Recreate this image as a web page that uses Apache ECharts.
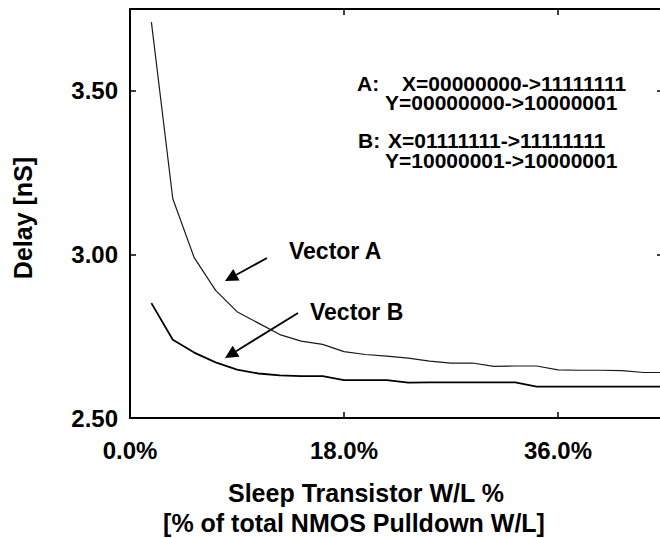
<!DOCTYPE html>
<html>
<head>
<meta charset="utf-8">
<script src="https://cdn.jsdelivr.net/npm/echarts@6/dist/echarts.min.js"></script>
<style>
  html, body { margin: 0; padding: 0; background: #fff; overflow: hidden; }
  #chart { width: 664px; height: 538px; }
</style>
</head>
<body>
<div id="chart"></div>
<script>
// Sleep transistor size, % of total NMOS pulldown W/L
const widthPct = [1.8, 3.6, 5.4, 7.2, 9.0, 10.8, 12.6, 14.4, 16.2, 18.0, 19.8, 21.6, 23.4,
                  25.2, 27.0, 28.8, 30.6, 32.4, 34.2, 36.0, 37.8, 39.6, 41.4, 43.2, 45.0];
// Delay in nS for each input vector
const delayA = [3.71, 3.17, 2.99, 2.89, 2.825, 2.79, 2.755, 2.735, 2.725, 2.703, 2.694, 2.689, 2.683,
                2.674, 2.668, 2.668, 2.658, 2.659, 2.659, 2.647, 2.646, 2.646, 2.645, 2.639, 2.639];
const delayB = [2.851, 2.739, 2.70, 2.67, 2.648, 2.636, 2.630, 2.628, 2.628, 2.616, 2.616, 2.616, 2.608,
                2.609, 2.609, 2.609, 2.609, 2.609, 2.596, 2.596, 2.596, 2.596, 2.596, 2.596, 2.596];

// Axis ranges and tick steps
const xRange = [0, 44.83];
const xStep = 18;
const yRange = [2.5, 3.75];
const yStep = 0.5;

// Input vector definitions
const vectorA = { tag: 'A:', x: 'X=00000000->11111111', y: 'Y=00000000->10000001' };
const vectorB = { tag: 'B:', x: 'X=01111111->11111111', y: 'Y=10000001->10000001' };
const seriesNames = ['Vector A', 'Vector B'];

const FONT = '"Liberation Sans", Arial, Helvetica, sans-serif';
const INK = '#000';

const chart = echarts.init(document.getElementById('chart'), null, { renderer: 'svg' });

const onStep = (v, step) => Math.abs(v / step - Math.round(v / step)) < 1e-6;

function boxAxis(base) {
  return Object.assign({
    axisLine: { show: true, onZero: false, lineStyle: { color: INK, width: 2 } },
    axisTick: { show: true, inside: true, length: 6, lineStyle: { color: INK, width: 1.5 } },
    splitLine: { show: false }
  }, base);
}

// Arrow: line from tail to tip with a filled triangular head
function arrow(tail, tip, headLen, headW) {
  const dx = tip[0] - tail[0], dy = tip[1] - tail[1];
  const L = Math.hypot(dx, dy);
  const ux = dx / L, uy = dy / L;
  const bx = tip[0] - ux * headLen, by = tip[1] - uy * headLen;
  const px = -uy * headW / 2, py = ux * headW / 2;
  return [
    { type: 'line', shape: { x1: tail[0], y1: tail[1], x2: bx, y2: by },
      style: { stroke: INK, lineWidth: 1.8 } },
    { type: 'polygon', shape: { points: [[tip[0], tip[1]], [bx + px, by + py], [bx - px, by - py]] },
      style: { fill: INK } }
  ];
}

function label(text, x, y, size, align) {
  return { type: 'text', x: x, y: y,
    style: { text: text, fill: INK, font: 'bold ' + size + 'px ' + FONT,
             align: align || 'left', verticalAlign: 'middle' } };
}

// Two-line vector description: tag column, then X and Y patterns
function vectorBlock(v, x, yTop, tagW, indentW) {
  const base = { fontSize: 21, fontWeight: 'bold', fontFamily: FONT, color: INK, lineHeight: 19.5 };
  return { type: 'text', x: x, y: yTop,
    style: {
      text: '{t|' + v.tag + '}{s|' + v.x + '}\n{p|}{s|' + v.y + '}',
      align: 'left', verticalAlign: 'top',
      rich: {
        t: Object.assign({ width: tagW }, base),
        p: Object.assign({ width: indentW }, base),
        s: base
      }
    } };
}

const graphics = [
  vectorBlock(vectorA, 357, 73.5, 45, 28),
  vectorBlock(vectorB, 358, 131, 30, 27),
  label(seriesNames[0], 289, 251, 23),
  label(seriesNames[1], 310, 312, 23),
  label('Sleep Transistor W/L %', 366, 492.5, 25, 'center'),
  label('[% of total NMOS Pulldown W/L]', 354, 523, 25, 'center'),
  { type: 'text', x: 23, y: 218, rotation: Math.PI / 2,
    style: { text: 'Delay [nS]', fill: INK, font: 'bold 25px ' + FONT,
             align: 'center', verticalAlign: 'middle' } }
].concat(arrow([267, 258], [225, 281], 13, 13))
 .concat(arrow([298, 313], [225, 358], 13, 13));

chart.setOption({
  animation: false,
  backgroundColor: '#fff',
  grid: { left: 130, top: 9, width: 533, height: 409, containLabel: false },
  xAxis: [
    boxAxis({
      type: 'value', position: 'bottom', min: xRange[0], max: xRange[1], interval: xStep,
      axisLabel: {
        show: true, margin: 20, color: INK, fontSize: 24, fontWeight: 'bold', fontFamily: FONT,
        showMaxLabel: false,
        formatter: v => onStep(v, xStep) ? v.toFixed(1) + '%' : ''
      }
    }),
    boxAxis({
      type: 'value', position: 'top', min: xRange[0], max: xRange[1], interval: xStep,
      axisLabel: { show: false }
    })
  ],
  yAxis: [
    boxAxis({
      type: 'value', position: 'left', min: yRange[0], max: yRange[1], interval: yStep,
      axisLabel: {
        show: true, margin: 12, color: INK, fontSize: 24, fontWeight: 'bold', fontFamily: FONT,
        showMaxLabel: false,
        formatter: v => onStep(v, yStep) ? v.toFixed(2) : ''
      }
    }),
    boxAxis({
      type: 'value', position: 'right', min: yRange[0], max: yRange[1], interval: yStep,
      axisLabel: { show: false }
    })
  ],
  series: [
    {
      name: seriesNames[0], type: 'line', xAxisIndex: 0, yAxisIndex: 0,
      data: widthPct.map((x, i) => [x, delayA[i]]),
      showSymbol: false, smooth: false,
      lineStyle: { color: '#1a1a1a', width: 1.2 }
    },
    {
      name: seriesNames[1], type: 'line', xAxisIndex: 0, yAxisIndex: 0,
      data: widthPct.map((x, i) => [x, delayB[i]]),
      showSymbol: false, smooth: false,
      lineStyle: { color: '#000', width: 1.8 }
    }
  ],
  graphic: graphics
});
</script>
</body>
</html>
